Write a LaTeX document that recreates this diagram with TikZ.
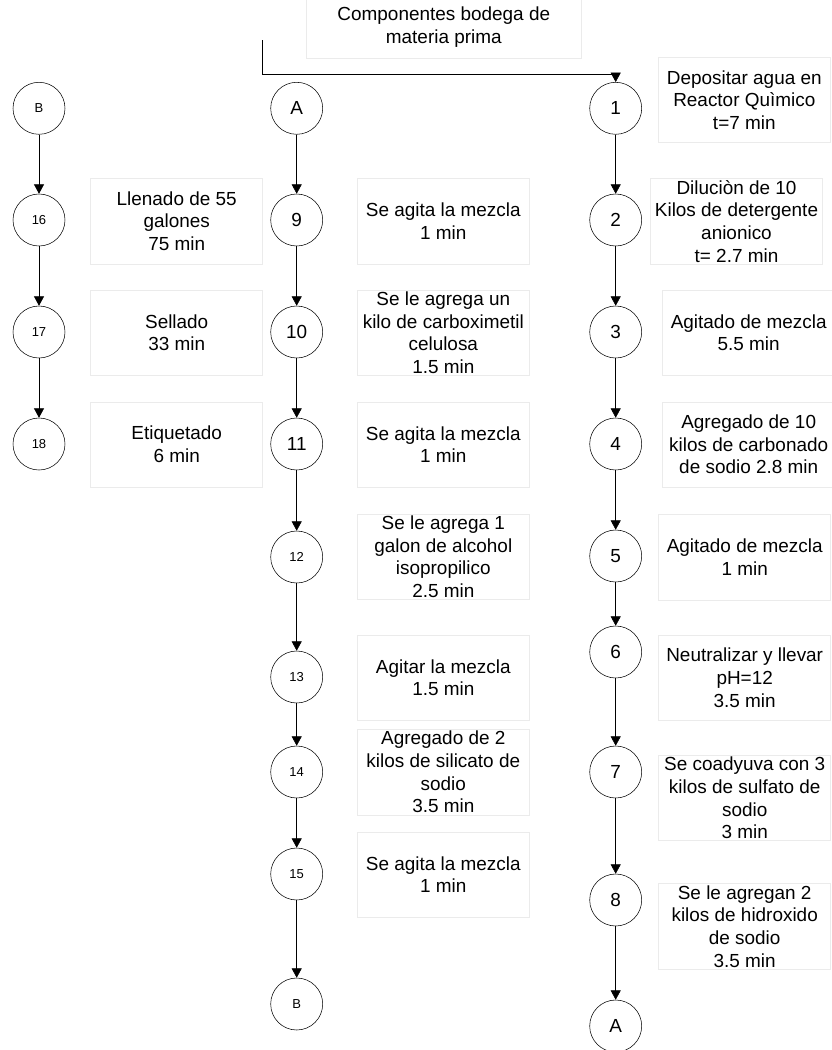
\documentclass[tikz,border=0pt]{standalone}
\usepackage{fontspec}
\setmainfont{Liberation Sans}
\usetikzlibrary{arrows.meta}

\begin{document}
\begin{tikzpicture}[x=0.75pt,y=-0.75pt,
		every node/.style={font=\fontsize{14.2}{17}\selectfont},
		paso/.style={draw,circle,minimum size=39pt,inner sep=0pt},
		chico/.style={font=\fontsize{9.75}{12}\selectfont},
		nota/.style={draw=black!8,minimum width=129pt,minimum height=64pt,inner sep=0pt,align=center},
		>={Triangle[width=7.5pt,length=7pt]}]
		\useasboundingbox (0,0) rectangle (832,1050);

		% columna derecha
		\foreach \i/\y in {1/108.3,2/220,3/332,4/444,5/556,6/652,7/772,8/900} {
				\node[paso] (\i) at (615.7,\y) {\i};
			}
		\node[paso] (A2) at (615.7,1026) {A};

		% columna central
		\node[paso] (A) at (296.7,108.3) {A};
		\foreach \i/\y in {9/220,10/332,11/444} {
				\node[paso] (\i) at (296.7,\y) {\i};
			}
		\foreach \i/\y in {12/557,13/677,14/772,15/874} {
				\node[paso,chico] (\i) at (296.7,\y) {\i};
			}
		\node[paso,chico] (B2) at (296.7,1004) {B};

		% columna izquierda
		\node[paso,chico] (B) at (39,108.3) {B};
		\foreach \i/\y in {16/220,17/332,18/444} {
				\node[paso,chico] (\i) at (39,\y) {\i};
			}

		% descripciones
		\node[nota,minimum width=206.8pt,minimum height=46.5pt] (mp) at (443.8,27.2) {Componentes bodega de\\materia prima};
		\node[nota] (d1) at (744.3,100) {Depositar agua en\\Reactor Quìmico\\t=7 min};
		\node[nota] (d2) at (736.5,221.2) {Diluciòn de 10\\Kilos de detergente\\anionico\\t= 2.7 min};
		\node[nota] (d3) at (748.7,332.8) {Agitado de mezcla\\5.5 min};
		\node[nota] (d4) at (748.7,444.5) {Agregado de 10\\kilos de carbonado\\de sodio 2.8 min};
		\node[nota] (d5) at (744.7,557.2) {Agitado de mezcla\\1 min};
		\node[nota] (d6) at (744.7,677.6) {Neutralizar y llevar\\pH=12\\3.5 min};
		\node[nota] (d7) at (744.7,798) {Se coadyuva con 3\\kilos de sulfato de\\sodio\\3 min};
		\node[nota] (d8) at (744.7,926.3) {Se le agregan 2\\kilos de hidroxido\\de sodio\\3.5 min};

		\node[nota] (d9) at (443.3,221.2) {Se agita la mezcla\\1 min};
		\node[nota] (d10) at (443.3,332.8) {Se le agrega un\\kilo de carboximetil\\celulosa\\1.5 min};
		\node[nota] (d11) at (443.3,444.5) {Se agita la mezcla\\1 min};
		\node[nota] (d12) at (443.3,556.8) {Se le agrega 1\\galon de alcohol\\isopropilico\\2.5 min};
		\node[nota] (d13) at (443.3,677.6) {Agitar la mezcla\\1.5 min};
		\node[nota] (d14) at (443.3,772.2) {Agregado de 2\\kilos de silicato de\\sodio\\3.5 min};
		\node[nota] (d15) at (443.3,874.5) {Se agita la mezcla\\1 min};

		\node[nota] (d16) at (176.7,221.2) {Llenado de 55\\galones\\75 min};
		\node[nota] (d17) at (176.7,332.8) {Sellado\\33 min};
		\node[nota] (d18) at (176.7,444.5) {Etiquetado\\6 min};

		% flechas
		\coordinate (ini) at (262.7,40);
		\coordinate (codo) at (615.7,74);
		\draw[->] (ini) |- (codo) -- (1);
		\foreach \a/\b in {1/2,2/3,3/4,4/5,5/6,6/7,7/8,8/A2,A/9,9/10,10/11,11/12,12/13,13/14,14/15,15/B2,B/16,16/17,17/18} {
				\draw[->] (\a) -- (\b);
			}
	\end{tikzpicture}
\end{document}
